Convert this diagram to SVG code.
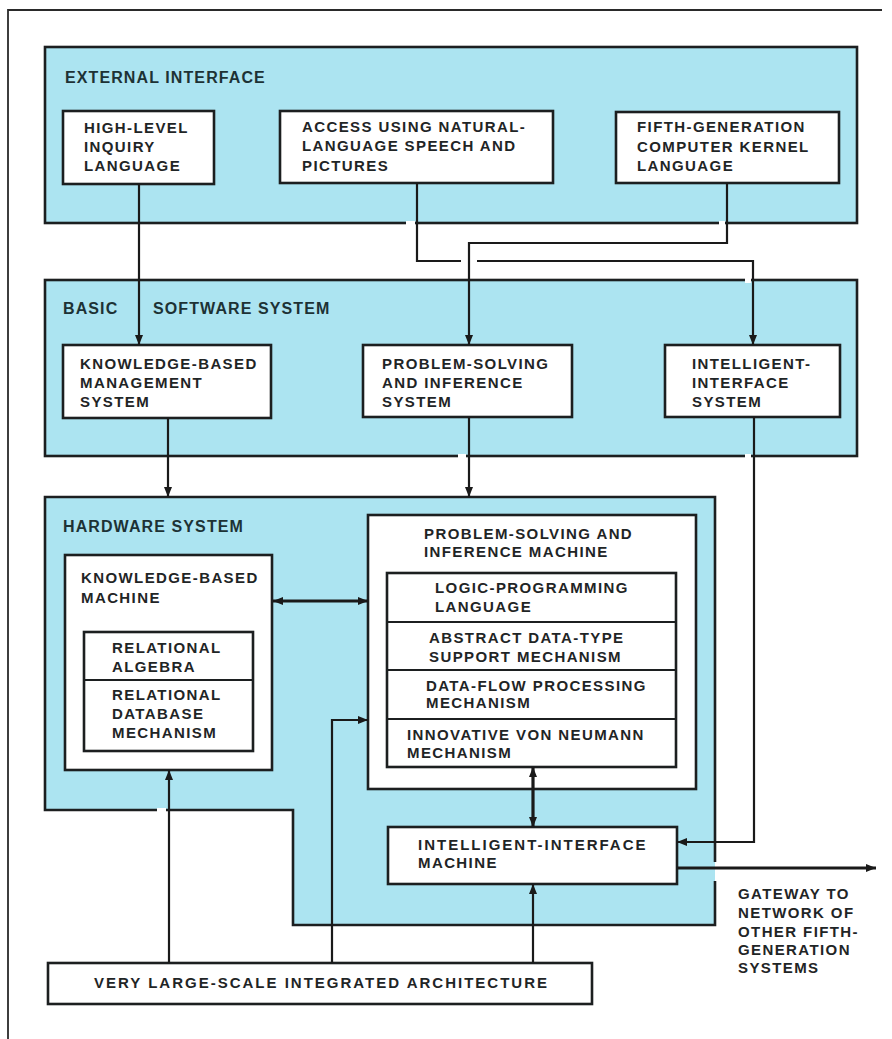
<svg xmlns="http://www.w3.org/2000/svg" width="892" height="1039" viewBox="0 0 892 1039">
<style>
  .bg{fill:#ffffff}
  .region{fill:#ace4f1;stroke:#1c1f20;stroke-width:2.6}
  .regedge{fill:none;stroke:#1c1f20;stroke-width:2.6}
  .box{fill:#ffffff;stroke:#1c1f20;stroke-width:2.6}
  .div{fill:none;stroke:#1c1f20;stroke-width:2.2}
  .frame{fill:none;stroke:#2a2a2a;stroke-width:1.8}
  .c{fill:none;stroke:#1a1a1a;stroke-width:2.2}
  .ct{fill:none;stroke:#1a1a1a;stroke-width:3.2}
  .gap{fill:#ffffff;stroke:none}
  text{font-family:"Liberation Sans",Arial,sans-serif;font-weight:bold;fill:#1f2526}
  .t{font-size:15px;letter-spacing:1.4px}
  .w{letter-spacing:2px}
  .h{font-size:16px;letter-spacing:1.1px;fill:#1d3235}
</style>
<defs>
  <marker id="ah" viewBox="0 0 10 8" refX="10" refY="4" markerWidth="10" markerHeight="9" markerUnits="userSpaceOnUse" orient="auto-start-reverse">
    <path d="M0,0 L10,4 L0,8 Z" fill="#1a1a1a"/>
  </marker>
</defs>
<rect class="bg" x="0" y="0" width="892" height="1039"/>
<path class="frame" d="M882,10 H8 V1039"/>

<g id="external-interface">
  <rect class="region" x="45" y="47" width="812" height="176"/>
  <text class="h" x="65" y="83">EXTERNAL INTERFACE</text>
</g>
<g id="high-level-inquiry">
  <rect class="box" x="63" y="111" width="151" height="73"/>
  <text class="t" x="84" y="133">HIGH-LEVEL</text>
  <text class="t" x="84" y="152">INQUIRY</text>
  <text class="t" x="84" y="171">LANGUAGE</text>
</g>
<g id="natural-language-access">
  <rect class="box" x="280" y="111" width="273" height="72"/>
  <text class="t" x="302" y="132">ACCESS USING NATURAL-</text>
  <text class="t" x="302" y="151">LANGUAGE SPEECH AND</text>
  <text class="t" x="302" y="171">PICTURES</text>
</g>
<g id="kernel-language">
  <rect class="box" x="616" y="112" width="223" height="71"/>
  <text class="t" x="637" y="132">FIFTH-GENERATION</text>
  <text class="t" x="637" y="152">COMPUTER KERNEL</text>
  <text class="t" x="637" y="171">LANGUAGE</text>
</g>

<g id="basic-software">
  <rect class="region" x="45" y="280" width="812" height="176"/>
  <text class="h" x="63" y="314">BASIC</text>
  <text class="h" x="153" y="314">SOFTWARE SYSTEM</text>
</g>
<g id="kb-management">
  <rect class="box" x="63" y="345" width="208" height="73"/>
  <text class="t" x="80" y="369">KNOWLEDGE-BASED</text>
  <text class="t" x="80" y="388">MANAGEMENT</text>
  <text class="t" x="80" y="407">SYSTEM</text>
</g>
<g id="ps-inference-system">
  <rect class="box" x="363" y="345" width="209" height="72"/>
  <text class="t" x="382" y="369">PROBLEM-SOLVING</text>
  <text class="t" x="382" y="388">AND INFERENCE</text>
  <text class="t" x="382" y="407">SYSTEM</text>
</g>
<g id="intelligent-interface-system">
  <rect class="box" x="665" y="345" width="175" height="72"/>
  <text class="t" x="692" y="369">INTELLIGENT-</text>
  <text class="t" x="692" y="388">INTERFACE</text>
  <text class="t" x="692" y="407">SYSTEM</text>
</g>

<g id="hardware-system">
  <path d="M45,497 H715 V925 H293 V810 H45 Z" fill="#ace4f1" stroke="none"/>
  <path class="regedge" d="M715,862 V497 H45 V810 H293 V925 H715 V881"/>
  <text class="h" x="63" y="532">HARDWARE SYSTEM</text>
</g>
<g id="kb-machine">
  <rect class="box" x="65" y="555" width="207" height="215"/>
  <text class="t" x="81" y="583">KNOWLEDGE-BASED</text>
  <text class="t" x="81" y="603">MACHINE</text>
  <rect class="box" x="84" y="632" width="169" height="119"/>
  <line class="div" x1="84" y1="680" x2="253" y2="680"/>
  <text class="t" x="112" y="653">RELATIONAL</text>
  <text class="t" x="112" y="672">ALGEBRA</text>
  <text class="t" x="112" y="700">RELATIONAL</text>
  <text class="t" x="112" y="719">DATABASE</text>
  <text class="t" x="112" y="738">MECHANISM</text>
</g>
<g id="ps-inference-machine">
  <rect class="box" x="368" y="515" width="328" height="274"/>
  <text class="t" x="424" y="539">PROBLEM-SOLVING AND</text>
  <text class="t" x="424" y="557">INFERENCE MACHINE</text>
  <rect class="box" x="387" y="573" width="289" height="194"/>
  <line class="div" x1="387" y1="622" x2="676" y2="622"/>
  <line class="div" x1="387" y1="670" x2="676" y2="670"/>
  <line class="div" x1="387" y1="719" x2="676" y2="719"/>
  <text class="t" x="435" y="593">LOGIC-PROGRAMMING</text>
  <text class="t" x="435" y="612">LANGUAGE</text>
  <text class="t" x="429" y="643">ABSTRACT DATA-TYPE</text>
  <text class="t" x="429" y="662">SUPPORT MECHANISM</text>
  <text class="t" x="426" y="691">DATA-FLOW PROCESSING</text>
  <text class="t" x="426" y="708">MECHANISM</text>
  <text class="t" x="407" y="740">INNOVATIVE VON NEUMANN</text>
  <text class="t" x="407" y="758">MECHANISM</text>
</g>
<g id="intelligent-interface-machine">
  <rect class="box" x="388" y="827" width="289" height="57"/>
  <text class="t w" x="418" y="850">INTELLIGENT-INTERFACE</text>
  <text class="t" x="418" y="868">MACHINE</text>
</g>
<g id="vlsi-architecture">
  <rect class="box" x="48" y="963" width="544" height="41"/>
  <text class="t w" x="94" y="988">VERY LARGE-SCALE INTEGRATED ARCHITECTURE</text>
</g>
<g id="gateway-label">
  <text class="t" x="738" y="899">GATEWAY TO</text>
  <text class="t" x="738" y="918">NETWORK OF</text>
  <text class="t" x="738" y="937">OTHER FIFTH-</text>
  <text class="t" x="738" y="955">GENERATION</text>
  <text class="t" x="738" y="973">SYSTEMS</text>
</g>

<g id="connectors">
  <rect class="gap" x="406" y="221" width="9" height="5"/>
  <rect class="gap" x="719" y="221" width="6" height="5"/>
  <rect class="gap" x="745" y="278" width="6" height="5"/>
  <rect class="gap" x="458" y="454" width="8" height="5"/>
  <rect class="gap" x="745" y="454" width="6" height="5"/>
  <rect class="gap" x="157" y="808" width="9" height="5"/>
  <path class="c" d="M139,184 V345" marker-end="url(#ah)"/>
  <path class="c" d="M417,183 V261 H461"/>
  <path class="c" d="M477,261 H753 V345" marker-end="url(#ah)"/>
  <path class="c" d="M727,183 V243 H469 V345" marker-end="url(#ah)"/>
  <path class="c" d="M168,418 V497" marker-end="url(#ah)"/>
  <path class="c" d="M469,417 V497" marker-end="url(#ah)"/>
  <path class="c" d="M754,417 V842 H677" marker-end="url(#ah)"/>
  <path class="ct" d="M273,601 H368" marker-start="url(#ah)" marker-end="url(#ah)"/>
  <path class="ct" d="M533,767 V827" marker-start="url(#ah)" marker-end="url(#ah)"/>
  <path class="c" d="M169,963 V770" marker-end="url(#ah)"/>
  <path class="c" d="M332,963 V720 H368" marker-end="url(#ah)"/>
  <path class="c" d="M533,963 V884" marker-end="url(#ah)"/>
  <path class="ct" d="M677,868 H876" marker-end="url(#ah)"/>
</g>
</svg>
